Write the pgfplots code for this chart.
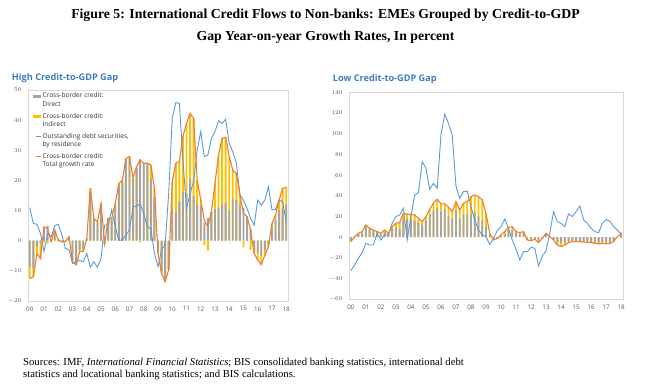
\documentclass[border=0pt]{standalone}
\usepackage{pgfplots}
\pgfplotsset{compat=1.18}
\usepackage{pgfplotstable}
\usepackage{fontspec}
\setmainfont{Liberation Serif}
\newfontfamily\chartfont{Open Sans}
\definecolor{bargray}{HTML}{A5A5A5}
\definecolor{baryel}{HTML}{FFC000}
\definecolor{lineblue}{HTML}{5B9BD5}
\definecolor{lineorange}{HTML}{ED7D31}
\definecolor{titleblue}{HTML}{3C7DBF}
\definecolor{framegray}{HTML}{D9D9D9}
\definecolor{ticktext}{HTML}{595959}

% q: quarter index from 2000Q1; d: direct; i: indirect; t: total growth; b: debt securities
\pgfplotstableread{
q d i t b
0 -8.5 -4.0 -12.5 11.0
1 -9.0 -3.0 -12.0 5.7
2 -2.0 -2.2 -4.2 5.5
3 -1.0 -4.9 -5.9 2.4
4 4.5 -0.5 4.6 -3.6
5 5.0 -1.0 4.0 2.4
6 -0.3 0.0 -0.3 1.3
7 3.0 0.5 3.5 5.0
8 0.5 -0.3 0.2 5.5
9 -0.5 0.0 -0.3 2.0
10 -0.3 0.0 -0.3 -2.5
11 1.3 0.0 1.3 -3.0
12 -6.5 -0.5 -7.0 -7.5
13 -7.5 -0.5 -8.0 -7.0
14 -3.0 -0.6 -3.6 -6.5
15 -3.3 -0.3 -3.6 -7.0
16 0.8 0.0 0.8 -4.2
17 16.0 1.4 17.4 -8.8
18 7.0 0.4 7.4 -7.0
19 6.0 0.3 6.3 -8.8
20 12.0 0.4 12.4 -5.9
21 -0.9 0.0 -0.9 5.2
22 7.0 0.4 7.4 5.2
23 7.0 0.4 7.4 10.2
24 12.0 0.4 12.4 4.6
25 18.5 0.5 19.0 0.2
26 19.5 0.6 20.1 0.2
27 27.0 0.3 27.3 2.0
28 27.5 0.4 27.9 3.5
29 20.5 0.2 20.7 11.3
30 24.0 0.6 24.6 11.5
31 27.0 -0.4 26.8 12.2
32 25.3 0.4 25.7 9.0
33 25.3 0.4 25.7 4.6
34 20.5 4.6 25.1 4.0
35 14.5 2.9 17.4 -4.2
36 -3.5 -0.7 -4.2 -8.6
37 -10.0 -0.8 -10.8 -3.0
38 -12.5 -1.1 -13.6 -1.4
39 -9.5 -0.2 -9.7 15.7
40 11.0 8.6 19.6 40.6
41 9.5 16.2 25.7 45.8
42 13.0 13.2 26.2 45.6
43 16.0 18.6 34.6 26.8
44 15.5 23.4 38.9 10.7
45 20.5 21.7 42.2 15.7
46 15.0 25.6 40.6 19.6
47 12.0 8.1 20.1 30.0
48 11.5 2.0 13.5 36.2
49 6.0 -1.5 6.9 27.9
50 7.5 -3.3 4.6 28.4
51 9.6 0.0 9.6 34.0
52 10.5 8.5 19.0 36.2
53 11.0 17.4 28.4 39.8
54 12.0 22.0 34.0 38.9
55 12.5 21.8 34.3 40.3
56 10.0 17.9 27.9 32.3
57 14.0 9.4 23.4 29.5
58 13.5 8.8 22.3 25.7
59 12.0 3.2 15.2 15.2
60 11.0 -2.2 9.1 13.5
61 8.0 0.0 8.0 10.7
62 4.0 -3.0 3.5 7.4
63 -3.3 -0.9 -4.2 5.2
64 -4.0 -2.4 -6.4 13.5
65 -5.0 -2.9 -7.9 11.8
66 -3.0 -1.8 -4.8 13.5
67 -1.0 -1.0 -2.0 17.9
68 4.5 1.2 5.7 10.2
69 7.0 1.5 8.5 10.4
70 10.0 3.5 13.5 13.5
71 10.5 6.9 17.4 12.9
72 12.0 5.7 17.7 6.2
}\highdata

\pgfplotstableread{
q d i t b
0 -3.0 -1.3 -4.3 -32.3
1 0.5 0.0 0.5 -26.8
2 3.0 0.8 3.8 -20.4
3 4.0 1.4 5.4 -14.9
4 10.0 1.8 11.8 -5.9
5 8.0 0.6 8.6 -7.5
6 6.0 1.0 7.0 -7.5
7 5.0 0.4 5.4 3.8
8 3.0 0.8 3.8 -2.7
9 5.0 2.0 7.0 2.2
10 3.0 0.8 3.8 2.2
11 8.0 2.2 10.2 13.4
12 9.0 4.4 13.4 19.9
13 8.0 6.3 14.3 21.5
14 17.0 6.0 23.0 27.9
15 17.0 5.4 22.4 -2.7
16 16.0 6.0 22.0 19.9
17 16.0 5.5 21.5 40.8
18 14.0 4.3 18.3 43.0
19 12.0 3.0 15.0 73.0
20 16.0 3.9 19.9 66.6
21 22.0 5.0 27.0 46.3
22 26.0 6.8 32.8 52.0
23 28.0 8.7 36.7 47.2
24 25.0 7.2 32.2 98.8
25 27.0 5.2 32.2 119.0
26 20.0 9.0 29.0 110.0
27 18.0 6.7 24.7 98.8
28 25.0 9.4 34.4 49.5
29 18.0 8.3 26.3 37.6
30 22.0 10.8 32.8 44.0
31 22.0 12.4 34.4 44.7
32 22.0 17.2 39.2 29.5
33 24.0 16.8 40.8 16.7
34 20.0 19.2 39.2 7.0
35 16.0 20.0 36.0 2.2
36 10.0 13.0 23.0 0.5
37 2.0 1.8 3.8 -6.9
38 -2.0 -0.7 -2.7 -1.1
39 -1.0 -0.1 -1.1 6.3
40 1.0 1.2 2.2 10.2
41 3.0 2.4 5.4 17.6
42 7.0 2.6 9.6 8.6
43 7.0 3.2 10.2 -2.7
44 4.0 1.4 5.4 -11.7
45 3.0 1.4 4.4 -22.0
46 4.0 1.4 5.4 -14.0
47 -2.0 -0.7 -2.7 -14.0
48 -2.0 -1.3 -3.3 -9.8
49 -1.5 -0.5 -2.0 -10.7
50 -3.5 -1.7 -5.2 -27.8
51 -1.0 -0.1 -1.1 -18.2
52 3.0 0.8 3.8 -13.0
53 0.5 0.0 0.5 3.8
54 -2.0 -0.7 -2.7 24.7
55 -5.0 -2.5 -7.5 15.0
56 -5.5 -3.6 -9.1 13.4
57 -5.0 -2.5 -7.5 10.2
58 -4.0 -1.2 -5.2 22.5
59 -3.5 -0.8 -4.3 19.9
60 -3.5 -0.8 -4.3 24.7
61 -3.5 -0.8 -4.3 30.2
62 -4.0 -0.6 -4.6 16.7
63 -4.0 -1.0 -5.0 13.4
64 -4.5 -0.7 -5.2 8.6
65 -5.0 -0.9 -5.9 5.4
66 -5.0 -1.5 -6.5 4.4
67 -5.0 -0.9 -5.9 13.4
68 -5.0 -1.5 -6.5 17.2
69 -5.0 -0.9 -5.9 15.3
70 -4.0 -0.3 -4.3 10.2
71 0.0 0.5 0.5 7.0
72 4.5 -1.0 3.8 3.1
}\lowdata

\pgfplotsset{
  panel/.style={
    scale only axis,
    xmin=-0.5, xmax=72.5,
    axis line style={framegray, line width=0.6bp},
    tick style={draw=none},
    xtick={0,4,...,72},
    xticklabels={00,01,02,03,04,05,06,07,08,09,10,11,12,13,14,15,16,17,18},
    ticklabel style={font=\chartfont\fontsize{6.3}{7}\selectfont, text=ticktext},
    xticklabel style={yshift=-2bp},
    yticklabel style={xshift=-3bp},
    clip=false,
  },
  dirbar/.style={ybar, bar width=1.9bp, bar shift=0pt, fill=bargray, draw=none},
  indbar/.style={ybar, bar width=1.9bp, bar shift=0pt, fill=baryel, draw=none},
  barleg/.style={legend image code/.code={\fill[##1] (0bp,2.85bp) rectangle (8bp,5.65bp);}},
  lineleg/.style={legend image code/.code={\draw[##1] (3bp,4.25bp) -- (8bp,4.25bp);}},
}
\newcommand{\stacky}{(\thisrow{d}*\thisrow{i} >= 0) ? (\thisrow{d}+\thisrow{i}) : (\thisrow{i})}

\begin{document}
\begin{tikzpicture}
\useasboundingbox (0bp,0bp) rectangle (649bp,392bp);

\node[align=center, font=\bfseries\fontsize{13.8}{22}\selectfont] at (325.5bp,366bp)
  {Figure 5: International Credit Flows to Non-banks: EMEs Grouped by Credit-to-GDP\\
   Gap Year-on-year Growth Rates, In percent};

\node[anchor=west, inner sep=0pt, font=\chartfont\bfseries\fontsize{9.2}{10}\selectfont, text=titleblue] at (11.7bp,314bp) {High Credit-to-GDP Gap};
\node[anchor=west, inner sep=0pt, font=\chartfont\bfseries\fontsize{9.2}{10}\selectfont, text=titleblue] at (332.7bp,313bp) {Low Credit-to-GDP Gap};

\node[anchor=north west, inner sep=0pt, align=left, font=\fontsize{10.7}{12.9}\selectfont] at (23bp,34.5bp)
  {Sources: IMF, \textit{International Financial Statistics}; BIS consolidated banking statistics, international debt\\
   statistics and locational banking statistics; and BIS calculations.};

\begin{axis}[panel,
  at={(28bp,91bp)}, anchor=south west, width=260bp, height=211bp,
  ymin=-20, ymax=50, ytick={-20,-10,...,50},
  legend style={at={(0.02,0.99)}, anchor=north west, draw=none, fill=none, inner sep=0pt,
    font=\chartfont\fontsize{6.6}{8.5}\selectfont, text=black!80,
    cells={anchor=west, align=left}, row sep=4bp,
    nodes={inner sep=0.6bp}},
]
\addplot[indbar, forget plot] table[x=q, y expr={\stacky}] {\highdata};
\addplot[dirbar, barleg] table[x=q, y=d] {\highdata};
\addlegendentry{Cross-border credit:\\Direct}
\addlegendimage{indbar, barleg}
\addlegendentry{Cross-border credit:\\Indirect}
\addplot[lineblue, line width=0.9bp, lineleg] table[x=q, y=b] {\highdata};
\addlegendentry{Outstanding debt securities,\\by residence}
\addplot[lineorange, line width=1.1bp, lineleg] table[x=q, y=t] {\highdata};
\addlegendentry{Cross-border credit:\\Total growth rate}
\end{axis}

\begin{axis}[panel,
  at={(349bp,92.7bp)}, anchor=south west, width=274bp, height=207bp,
  ymin=-60, ymax=140, ytick={-60,-40,...,140},
]
\addplot[indbar] table[x=q, y expr={\stacky}] {\lowdata};
\addplot[dirbar] table[x=q, y=d] {\lowdata};
\addplot[lineblue, line width=0.9bp] table[x=q, y=b] {\lowdata};
\addplot[lineorange, line width=1.1bp] table[x=q, y=t] {\lowdata};
\end{axis}
\end{tikzpicture}
\end{document}
